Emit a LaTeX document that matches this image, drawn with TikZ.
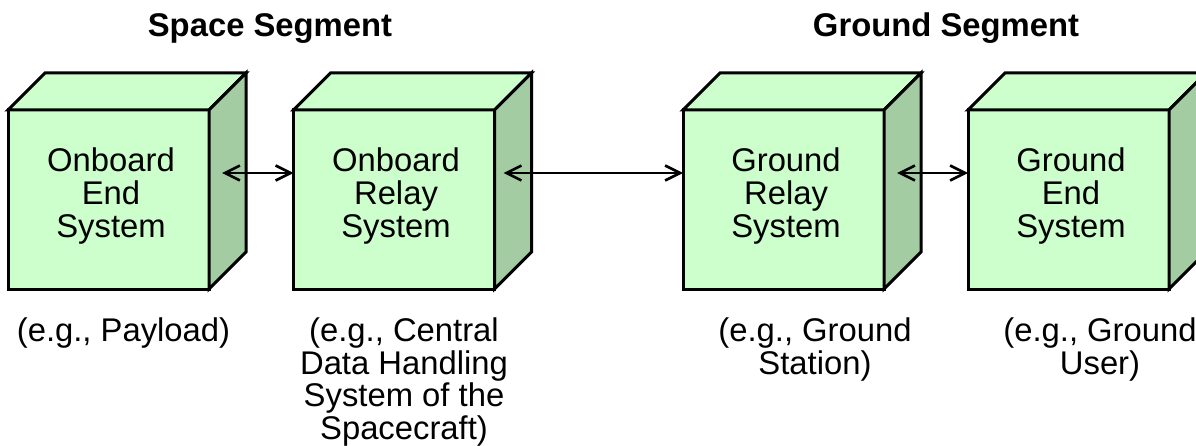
\documentclass[tikz,border=0pt]{standalone}
\usepackage{fontspec}
\setmainfont{Liberation Sans}
\usetikzlibrary{arrows.meta}
\definecolor{lgreen}{HTML}{CCFFCC}
\definecolor{dgreen}{HTML}{A3CCA3}
\tikzset{
  front/.style={draw, line width=3pt, fill=lgreen, minimum width=201pt, minimum height=179pt, inner sep=0pt, outer sep=0pt},
  topface/.style={draw, line width=3pt, fill=lgreen, line join=miter},
  sideface/.style={draw, line width=3pt, fill=dgreen, line join=miter},
  arr/.style={{Straight Barb[length=15pt,width=15pt]}-{Straight Barb[length=15pt,width=15pt]}, line width=2.6pt},
  boxtext/.style={align=center, anchor=north, inner sep=0pt, font=\fontsize{32.8}{33}\selectfont},
  lbl/.style={align=center, anchor=north, inner sep=0pt, font=\fontsize{32.8}{32.5}\selectfont},
  ttl/.style={anchor=base, inner sep=0pt, font=\fontsize{32.8}{33}\selectfont\bfseries}
}
\newcommand{\cubefaces}[1]{%
  \path[topface] (#1.north west) -- ++(37,-37) -- ++(201,0) -- (#1.north east) -- cycle;
  \path[sideface] (#1.north east) -- ++(37,-37) -- ++(0,179) -- (#1.south east) -- cycle;
}
\begin{document}
\begin{tikzpicture}[x=1pt,y=-1pt]
\useasboundingbox (0,0) rectangle (1196,446);
% titles
\node[ttl] (t1) at (270,37) {Space Segment};
\node[ttl] (t2) at (946,37) {Ground Segment};
% cubes
\node[front] (f1) at (108.5,199.5) {};
\node[front] (f2) at (394,199.5) {};
\node[front] (f3) at (783.5,199.5) {};
\node[front] (f4) at (1068.5,199.5) {};
\cubefaces{f1}
\cubefaces{f2}
\cubefaces{f3}
\cubefaces{f4}
% box texts
\node[boxtext] (b1) at (111,148) {Onboard\\End\\System};
\node[boxtext] (b2) at (396,148) {Onboard\\Relay\\System};
\node[boxtext] (b3) at (786,148) {Ground\\Relay\\System};
\node[boxtext] (b4) at (1071,148) {Ground\\End\\System};
% connectors
\coordinate (ay) at (0,173);
\draw[arr] ([xshift=13pt]f1.east |- ay) -- (f2.west |- ay);
\draw[arr] ([xshift=9pt]f2.east |- ay) -- (f3.west |- ay);
\draw[arr] ([xshift=13pt]f3.east |- ay) -- (f4.west |- ay);
% labels
\node[lbl] (l1) at (123.5,318) {(e.g., Payload)};
\node[lbl] (l2) at (404,318) {(e.g., Central\\Data Handling\\System of the\\Spacecraft)};
\node[lbl] (l3) at (815,318) {(e.g., Ground\\Station)};
\node[lbl] (l4) at (1100,318) {(e.g., Ground\\User)};
\end{tikzpicture}
\end{document}
